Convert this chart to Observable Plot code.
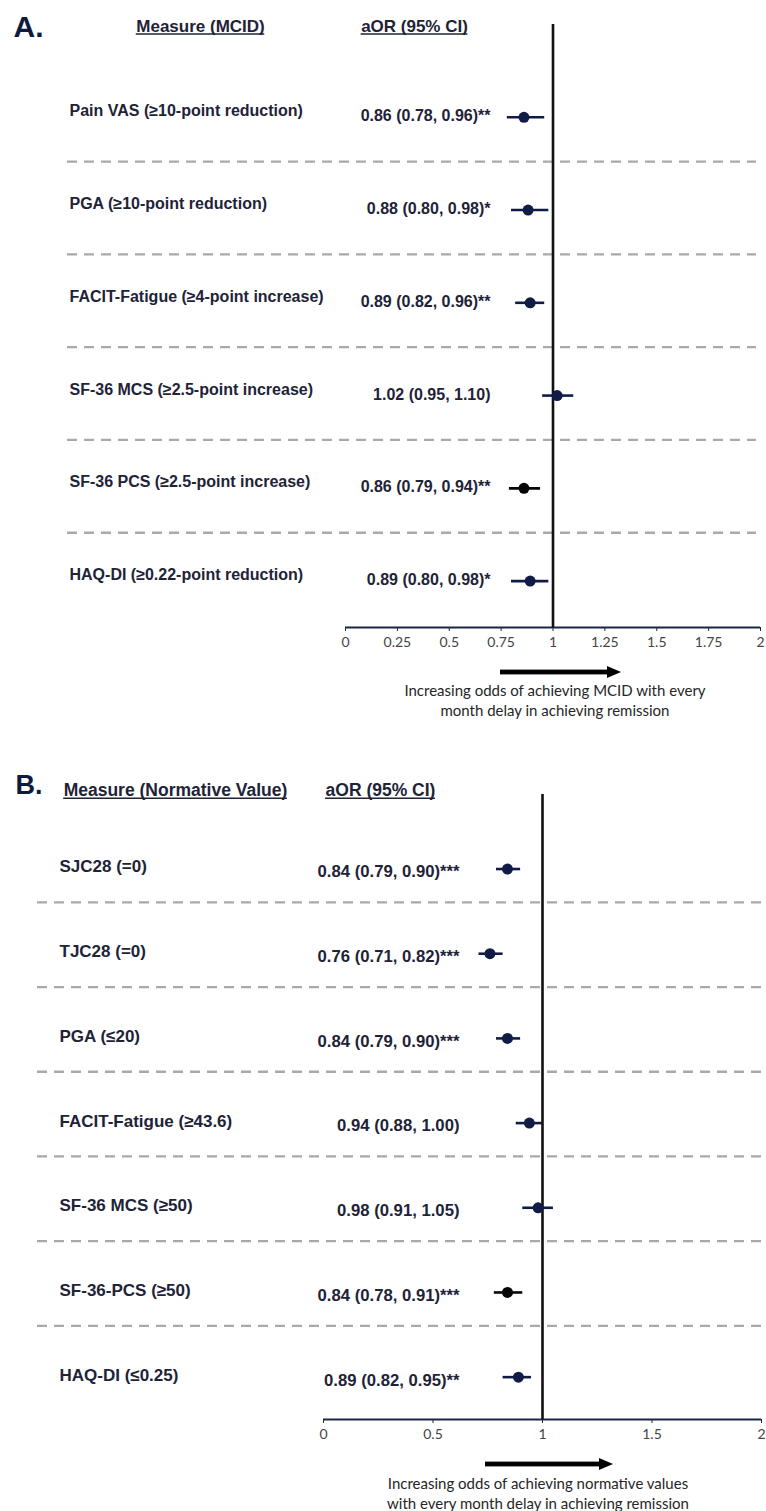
<!DOCTYPE html>
<html>
<head>
<meta charset="utf-8">
<script src="https://cdn.jsdelivr.net/npm/d3@7"></script>
<script src="https://cdn.jsdelivr.net/npm/@observablehq/plot@0.6"></script>
<style>
  html, body { margin: 0; padding: 0; background: #fff; }
  #page { position: relative; width: 766px; height: 1511px; overflow: hidden; background: #fff; }
  #page svg.panel { position: absolute; left: 0; overflow: visible; }
  g[aria-label^="x-axis"] text { font-family: Lato, "Open Sans", sans-serif; font-size: 14px; fill: #454545; }
  .cap { position: absolute; font-family: Lato, "Open Sans", sans-serif; font-size: 15px; color: #262626; text-align: center; line-height: 20px; width: 440px; }
  .arrow { position: absolute; }
</style>
</head>
<body>
<div id="page"></div>
<script>
// ---------- Panel A data ----------
const measuresA = [
  "Pain VAS (\u226510-point reduction)",
  "PGA (\u226510-point reduction)",
  "FACIT-Fatigue (\u22654-point increase)",
  "SF-36 MCS (\u22652.5-point increase)",
  "SF-36 PCS (\u22652.5-point increase)",
  "HAQ-DI (\u22650.22-point reduction)"
];
const aorA  = [0.86, 0.88, 0.89, 1.02, 0.86, 0.89];
const lowA  = [0.78, 0.80, 0.82, 0.95, 0.79, 0.80];
const highA = [0.96, 0.98, 0.96, 1.10, 0.94, 0.98];
const sigA  = ["**", "*", "**", "", "**", "*"];
const ticksA = [0, 0.25, 0.5, 0.75, 1, 1.25, 1.5, 1.75, 2];

// ---------- Panel B data ----------
const measuresB = [
  "SJC28 (=0)",
  "TJC28 (=0)",
  "PGA (\u226420)",
  "FACIT-Fatigue (\u226543.6)",
  "SF-36 MCS (\u226550)",
  "SF-36-PCS (\u226550)",
  "HAQ-DI (\u22640.25)"
];
const aorB  = [0.84, 0.76, 0.84, 0.94, 0.98, 0.84, 0.89];
const lowB  = [0.79, 0.71, 0.79, 0.88, 0.91, 0.78, 0.82];
const highB = [0.90, 0.82, 0.90, 1.00, 1.05, 0.91, 0.95];
const sigB  = ["***", "***", "***", "", "", "***", "**"];
const ticksB = [0, 0.5, 1, 1.5, 2];

const NAVY = "#101c45";
const TEXT = "#1e2337";
const FONT = "Arial, 'Liberation Sans', sans-serif";

function makePanel(cfg) {
  const rows = cfg.measures.map((m, i) => ({
    i, label: m, aor: cfg.aor[i], lo: cfg.low[i], hi: cfg.high[i],
    txt: `${cfg.aor[i].toFixed(2)} (${cfg.low[i].toFixed(2)}, ${cfg.high[i].toFixed(2)})${cfg.sig[i]}`
  }));
  const n = rows.length;
  const seps = d3.range(1, n).map(k => k - 0.5);
  const col = d => d.label.includes("PCS") ? "#050505" : NAVY;
  const ml = cfg.marginLeft;
  return Plot.plot({
    width: 766,
    height: cfg.height,
    marginLeft: ml,
    marginRight: cfg.marginRight,
    marginTop: cfg.marginTop,
    marginBottom: cfg.marginBottom,
    style: { fontFamily: FONT, fontSize: "13px", color: "#1a2744", background: "transparent", overflow: "visible" },
    x: { domain: [0, 2], ticks: cfg.ticks, tickFormat: d => String(d), tickSize: 4, tickPadding: 6, label: null },
    y: { domain: [cfg.yTop, n - 0.5], reverse: true, axis: null },
    marks: [
      Plot.ruleY(seps, { y: d => d, stroke: "#a9a9a9", strokeWidth: 2.3, strokeDasharray: "10,7",
        insetLeft: -(ml - cfg.dashLeft), insetRight: cfg.dashRightInset, dy: cfg.sepDy }),
      Plot.ruleY([n - 0.5], { stroke: "#1a2744", strokeWidth: 2 }),
      Plot.ruleX([1], { stroke: "#111111", strokeWidth: 2.6 }),
      Plot.ruleY(rows, { y: "i", x1: "lo", x2: "hi", stroke: col, strokeWidth: 2.6 }),
      Plot.dot(rows, { x: "aor", y: "i", r: 5.5, fill: col, stroke: null }),
      Plot.text(rows, { y: "i", text: "label", frameAnchor: "left", textAnchor: "start",
        dx: cfg.labelX - ml, dy: cfg.labelDy, fontSize: cfg.labelSize, fontWeight: "bold", fill: TEXT, fontFamily: FONT }),
      Plot.text(rows, { y: "i", text: "txt", frameAnchor: "left", textAnchor: "end",
        dx: cfg.valueRight - ml, dy: cfg.valueDy, fontSize: cfg.valueSize, fontWeight: "bold", fill: TEXT, fontFamily: FONT }),
      Plot.text([cfg.hdr1], { frameAnchor: "top-left", textAnchor: "middle", lineAnchor: "middle",
        dx: cfg.hdr1X - ml, dy: cfg.hdrDy, fontSize: cfg.hdrSize, fontWeight: "bold", fill: TEXT, fontFamily: FONT }),
      Plot.text([cfg.hdr2], { frameAnchor: "top-left", textAnchor: "middle", lineAnchor: "middle",
        dx: cfg.hdr2X - ml, dy: cfg.hdrDy, fontSize: cfg.hdrSize, fontWeight: "bold", fill: TEXT, fontFamily: FONT }),
      Plot.text([cfg.letter], { frameAnchor: "top-left", textAnchor: "start", lineAnchor: "middle",
        dx: cfg.letterX - ml, dy: cfg.letterDy, fontSize: cfg.letterSize, fontWeight: "bold", fill: "#0f1a3c", fontFamily: FONT })
    ]
  });
}

// underline the column headers (SVG text-decoration is not rendered)
function underlineHeaders(svg, cfg) {
  const ns = "http://www.w3.org/2000/svg";
  const y = cfg.marginTop + cfg.hdrDy + 0.32 * cfg.hdrSize + 2.6;
  [[cfg.hdr1, cfg.hdr1X], [cfg.hdr2, cfg.hdr2X]].forEach(([label, cx]) => {
    const t = Array.from(svg.querySelectorAll("text")).find(e => e.textContent === label);
    const w = t ? t.getComputedTextLength() : label.length * 8;
    const l = document.createElementNS(ns, "line");
    l.setAttribute("x1", cx - w / 2); l.setAttribute("x2", cx + w / 2);
    l.setAttribute("y1", y); l.setAttribute("y2", y);
    l.setAttribute("stroke", TEXT); l.setAttribute("stroke-width", 1.5);
    svg.appendChild(l);
  });
}

const page = document.getElementById("page");

const cfgA = {
  measures: measuresA, aor: aorA, low: lowA, high: highA, sig: sigA, ticks: ticksA,
  height: 660, marginLeft: 345, marginRight: 6, marginTop: 24, marginBottom: 33, yTop: -1,
  dashLeft: 67, dashRightInset: 4, sepDy: -2,
  labelX: 69, labelDy: -6, labelSize: 16,
  valueRight: 490, valueDy: -1, valueSize: 16,
  hdr1: "Measure (MCID)", hdr1X: 200, hdr2: "aOR (95% CI)", hdr2X: 414, hdrDy: 2, hdrSize: 17,
  letter: "A.", letterX: 13, letterDy: 3, letterSize: 30
};
const svgA = makePanel(cfgA);
svgA.classList.add("panel");
svgA.style.top = "0px";
page.appendChild(svgA);
underlineHeaders(svgA, cfgA);

const cfgB = {
  measures: measuresB, aor: aorB, low: lowB, high: highB, sig: sigB, ticks: ticksB,
  height: 684, marginLeft: 323, marginRight: 5, marginTop: 29, marginBottom: 30, yTop: -0.88,
  dashLeft: 37, dashRightInset: 0, sepDy: -9,
  labelX: 59, labelDy: -2, labelSize: 17,
  valueRight: 459, valueDy: 3, valueSize: 16.7,
  hdr1: "Measure (Normative Value)", hdr1X: 175, hdr2: "aOR (95% CI)", hdr2X: 380, hdrDy: -4, hdrSize: 17.5,
  letter: "B.", letterX: 15, letterDy: -9, letterSize: 27
};
const svgB = makePanel(cfgB);
svgB.classList.add("panel");
svgB.style.top = "765px";
page.appendChild(svgB);
underlineHeaders(svgB, cfgB);

// arrows and captions below each panel
function arrow(left, top, len) {
  const ns = "http://www.w3.org/2000/svg";
  const s = document.createElementNS(ns, "svg");
  s.setAttribute("width", len); s.setAttribute("height", 14);
  s.setAttribute("class", "arrow");
  s.style.left = left + "px"; s.style.top = (top - 7) + "px";
  const r = document.createElementNS(ns, "rect");
  r.setAttribute("x", 0); r.setAttribute("y", 4.6); r.setAttribute("width", len - 12); r.setAttribute("height", 4.8);
  r.setAttribute("fill", "#000");
  const p = document.createElementNS(ns, "polygon");
  p.setAttribute("points", `${len - 14},1 ${len},7 ${len - 14},13`);
  p.setAttribute("fill", "#000");
  s.appendChild(r); s.appendChild(p);
  page.appendChild(s);
}
function caption(cx, top, lines) {
  const d = document.createElement("div");
  d.className = "cap";
  d.style.left = (cx - 220) + "px";
  d.style.top = top + "px";
  d.innerHTML = lines.join("<br>");
  page.appendChild(d);
}
arrow(500, 672, 121);
caption(555, 680, ["Increasing odds of achieving MCID with every", "month delay in achieving remission"]);
arrow(485, 1464, 128);
caption(538, 1473, ["Increasing odds of achieving normative values", "with every month delay in achieving remission"]);
</script>
</body>
</html>
